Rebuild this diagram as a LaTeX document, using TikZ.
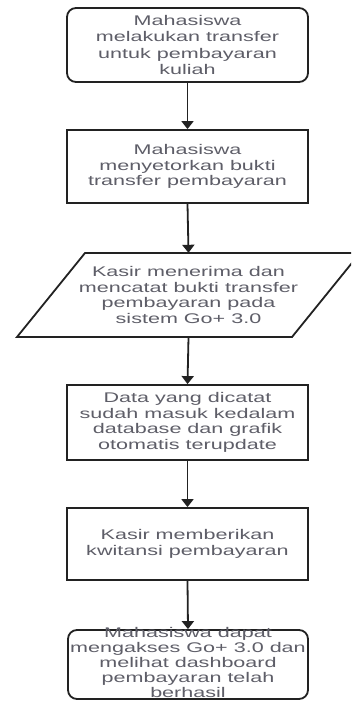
\documentclass[tikz,border=0pt]{standalone}
\usepackage{fontspec}
\setmainfont{Liberation Sans}[FakeStretch=1.54]
\usetikzlibrary{arrows.meta}
\definecolor{linec}{HTML}{222222}
\definecolor{textc}{HTML}{5E5E68}
\tikzset{
  shapebox/.style={draw=linec, line width=1.8pt, fill=white, inner sep=0pt},
  termbox/.style={shapebox, rounded corners=9pt},
  txt/.style={align=center, text=textc, font=\fontsize{14}{15.5}\selectfont, inner sep=0pt},
  flow/.style={draw=linec, line width=1.8pt, -{Triangle[width=12pt,length=8pt]}}
}
\begin{document}
\begin{tikzpicture}[x=1pt,y=-1pt]
\clip (0,0) rectangle (351,701);
\fill[white] (0,0) rectangle (351,701);
% shapes
\node[termbox, minimum width=241pt, minimum height=74pt] (b1) at (187.5,45) {};
\node[shapebox, minimum width=241pt, minimum height=73pt] (b2) at (187.5,166.5) {};
\node[inner sep=0pt, minimum width=275pt, minimum height=84pt] (b3) at (188.5,295) {};
\draw[shapebox] (85,253) -- (360,253) -- (292,337) -- (17,337) -- cycle;
\node[shapebox, minimum width=241pt, minimum height=75pt] (b4) at (187.5,422.5) {};
\node[shapebox, minimum width=241pt, minimum height=72pt] (b5) at (187.5,544) {};
\node[termbox, minimum width=240pt, minimum height=69pt] (b6) at (188,664.5) {};
% texts
\node[txt, font=\fontsize{14}{16.5}\selectfont] (t1) at (b1.center) {Mahasiswa\\melakukan transfer\\untuk pembayaran\\kuliah};
\node[txt] (t2) at (b2.center) {Mahasiswa\\menyetorkan bukti\\transfer pembayaran};
\node[txt] (t3) at (b3.center) {Kasir menerima dan\\mencatat bukti transfer\\pembayaran pada\\sistem Go+ 3.0};
\node[txt] (t4) at (b4.center) {Data yang dicatat\\sudah masuk kedalam\\database dan grafik\\otomatis terupdate};
\node[txt] (t5) at (b5.center) {Kasir memberikan\\kwitansi pembayaran};
\node[txt, font=\fontsize{14}{15}\selectfont] (t6) at ([yshift=2pt]b6.center) {Mahasiswa dapat\\mengakses Go+ 3.0 dan\\melihat dashboard\\pembayaran telah\\berhasil};
% connectors
\draw[flow] (b1.south) -- (b2.north);
\draw[flow] (b2.south) -- (b3.north);
\draw[flow] (b3.south) -- (b4.north);
\draw[flow] (b4.south) -- (b5.north);
\draw[flow] (b5.south) -- (b6.north);
\end{tikzpicture}
\end{document}
